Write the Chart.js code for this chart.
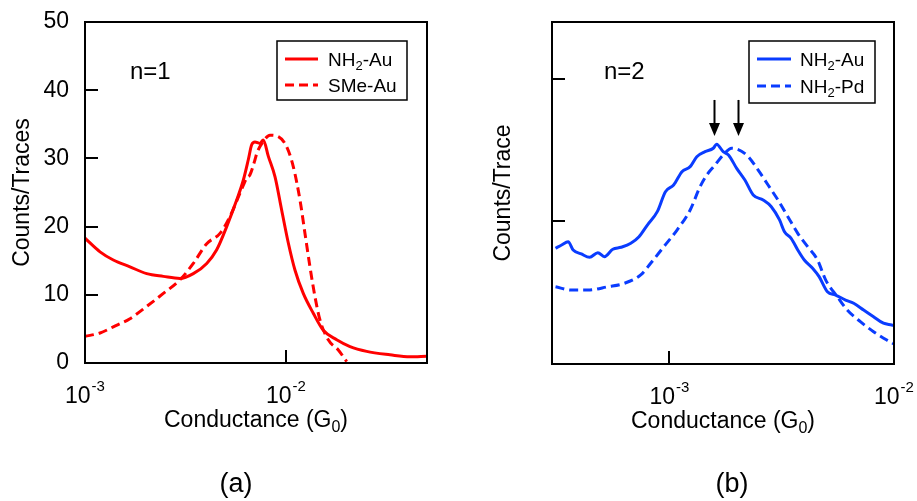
<!DOCTYPE html>
<html><head><meta charset="utf-8">
<script src="https://cdn.jsdelivr.net/npm/chart.js@4/dist/chart.umd.min.js"></script>
<style>
html,body{margin:0;padding:0;background:#fff;width:917px;height:501px;overflow:hidden}
#wa{position:absolute;left:0;top:0;width:460px;height:501px}
#wb{position:absolute;left:460px;top:0;width:457px;height:501px}
.cap{position:absolute;top:468px;line-height:30px;font-size:27px;font-family:"Liberation Sans",Arial,sans-serif;color:#000;transform:translateX(-50%)}
</style></head><body>
<div id="wa"><canvas id="ca"></canvas></div>
<div id="wb"><canvas id="cb"></canvas></div>
<div class="cap" style="left:236px">(a)</div>
<div class="cap" style="left:732px">(b)</div>
<script>
// ---------- data ----------
// Panel (a): n=1
const condA_NH2Au = [1.000e-3,1.188e-3,1.383e-3,1.674e-3,2.028e-3,2.453e-3,2.969e-3,3.458e-3,4.033e-3,4.521e-3,5.070e-3,5.684e-3,6.131e-3,6.492e-3,6.750e-3,7.010e-3,7.420e-3,7.710e-3,8.170e-3,8.820e-3,9.520e-3,1.027e-2,1.109e-2,1.219e-2,1.367e-2,1.533e-2,1.787e-2,2.082e-2,2.520e-2,3.290e-2,4.140e-2,5.000e-2];
const cntA_NH2Au  = [18.3,16.3,15.1,14.1,13.1,12.7,12.4,13.1,14.6,16.6,20.0,23.9,26.8,29.8,32.0,32.4,32.2,32.7,30.3,27.3,22.4,17.6,13.6,10.2,7.3,4.8,3.4,2.4,1.7,1.2,0.9,1.0];
const condA_SMeAu = [1.000e-3,1.188e-3,1.383e-3,1.674e-3,2.028e-3,2.453e-3,2.969e-3,3.458e-3,4.033e-3,4.695e-3,5.265e-3,5.904e-3,6.375e-3,6.620e-3,7.010e-3,7.150e-3,7.710e-3,8.320e-3,9.160e-3,1.008e-2,1.087e-2,1.174e-2,1.243e-2,1.316e-2,1.394e-2,1.476e-2,1.623e-2,1.821e-2,2.005e-2];
const cntA_SMeAu  = [3.9,4.4,5.3,6.5,8.3,10.2,12.2,14.6,17.5,19.0,21.5,24.9,27.1,27.6,29.8,30.7,32.5,33.4,33.2,31.7,28.8,23.9,19.0,14.1,9.7,6.3,3.4,1.9,0.2];
// Panel (b): n=2 (arbitrary units)
const condB_NH2Au = [3.110e-4,3.310e-4,3.540e-4,3.727e-4,4.055e-4,4.410e-4,4.800e-4,5.135e-4,5.595e-4,6.084e-4,6.730e-4,7.320e-4,7.975e-4,8.830e-4,9.600e-4,1.044e-3,1.137e-3,1.237e-3,1.324e-3,1.441e-3,1.568e-3,1.622e-3,1.735e-3,1.832e-3,1.993e-3,2.168e-3,2.361e-3,2.614e-3,2.842e-3,3.093e-3,3.253e-3,3.483e-3,3.728e-3,3.986e-3,4.340e-3,4.640e-3,5.053e-3,5.497e-3,6.083e-3,6.617e-3,7.325e-3,8.107e-3,8.973e-3,9.770e-3,1.000e-2];
const cntB_NH2Au  = [0.812,0.835,0.858,0.800,0.772,0.749,0.781,0.753,0.805,0.819,0.847,0.893,0.975,1.069,1.209,1.256,1.349,1.385,1.455,1.490,1.514,1.542,1.490,1.467,1.373,1.291,1.186,1.151,1.104,1.011,0.928,0.882,0.800,0.730,0.672,0.613,0.507,0.484,0.449,0.426,0.379,0.332,0.286,0.274,0.270];
const condB_NH2Pd = [3.110e-4,3.663e-4,4.338e-4,5.315e-4,6.290e-4,7.450e-4,8.250e-4,9.440e-4,1.081e-3,1.237e-3,1.369e-3,1.466e-3,1.594e-3,1.735e-3,1.894e-3,2.206e-3,2.485e-3,2.750e-3,3.043e-3,3.368e-3,3.728e-3,4.125e-3,4.566e-3,4.966e-3,5.593e-3,6.190e-3,7.085e-3,8.107e-3,9.287e-3,1.000e-2];
const cntB_NH2Pd  = [0.542,0.519,0.519,0.542,0.566,0.625,0.707,0.823,0.940,1.081,1.244,1.326,1.396,1.467,1.514,1.467,1.361,1.256,1.151,1.034,0.917,0.823,0.730,0.589,0.472,0.379,0.297,0.227,0.168,0.140];
const peakArrowsB = [1.574e-3, 2.028e-3];

// tick values and labels
const xTicksA = [1e-3, 1e-2];
const xTickExpA = ['-3', '-2'];
const yTicksA = [0, 10, 20, 30, 40, 50];
const xTicksB = [1e-3, 1e-2];
const xTickExpB = ['-3', '-2'];
const yTicksB = [0, 1, 2];

const xTitleParts = ['Conductance (G', '0', ')'];
const legendA = [['NH', '2', '-Au'], ['SMe-Au', '', '']];
const legendB = [['NH', '2', '-Au'], ['NH', '2', '-Pd']];

// ---------- rendering ----------
const FF = '"Liberation Sans", Arial, sans-serif';
const RED = '#ff0000', BLUE = '#0a3cff';

function pts(xs, ys) { return xs.map((x, i) => ({x: x, y: ys[i]})); }

function richWidth(ctx, parts, size) {
  ctx.font = size + 'px ' + FF;
  let w = ctx.measureText(parts[0]).width + (parts[2] ? ctx.measureText(parts[2]).width : 0);
  if (parts[1]) { ctx.font = Math.round(size * 0.68) + 'px ' + FF; w += ctx.measureText(parts[1]).width; }
  return w;
}
function drawRich(ctx, x, y, parts, size) {
  ctx.textAlign = 'left'; ctx.textBaseline = 'alphabetic';
  ctx.font = size + 'px ' + FF;
  ctx.fillText(parts[0], x, y); x += ctx.measureText(parts[0]).width;
  if (parts[1]) {
    ctx.font = Math.round(size * 0.68) + 'px ' + FF;
    ctx.fillText(parts[1], x, y + size * 0.22); x += ctx.measureText(parts[1]).width;
  }
  if (parts[2]) { ctx.font = size + 'px ' + FF; ctx.fillText(parts[2], x, y); }
}

const decor = {
  id: 'decor',
  afterDraw(chart, args, o) {
    const ctx = chart.ctx, a = chart.chartArea;
    const xs = chart.scales.x, ys = chart.scales.y;
    ctx.save();
    ctx.strokeStyle = '#000'; ctx.fillStyle = '#000'; ctx.lineWidth = 2;
    // inward tick marks
    ctx.beginPath();
    for (const t of ys.ticks) { const p = Math.round(ys.getPixelForValue(t.value)); ctx.moveTo(a.left, p); ctx.lineTo(a.left + 13, p); }
    for (const t of xs.ticks) { const p = Math.round(xs.getPixelForValue(t.value)); ctx.moveTo(p, a.bottom); ctx.lineTo(p, a.bottom - 13); }
    ctx.stroke();
    // frame
    ctx.strokeRect(a.left, a.top, a.right - a.left, a.bottom - a.top);
    // x tick labels 10^n
    xs.ticks.forEach((t, i) => {
      const px = xs.getPixelForValue(t.value);
      const exp = o.xExp[i];
      ctx.font = '23px ' + FF; const wb = ctx.measureText('10').width;
      ctx.font = '15px ' + FF; const we = ctx.measureText(exp).width;
      const x0 = px - (wb + we + 1) / 2;
      ctx.textAlign = 'left'; ctx.textBaseline = 'alphabetic';
      ctx.font = '23px ' + FF; ctx.fillText('10', x0, a.bottom + 40);
      ctx.font = '15px ' + FF; ctx.fillText(exp, x0 + wb + 1, a.bottom + 28);
    });
    // x axis title with subscript
    const tw = richWidth(ctx, xTitleParts, 23);
    drawRich(ctx, (a.left + a.right) / 2 - tw / 2, a.bottom + 64, xTitleParts, 23);
    // panel annotation
    ctx.font = '24px ' + FF; ctx.textAlign = 'left'; ctx.textBaseline = 'alphabetic';
    ctx.fillText(o.note, o.noteX, o.noteY);
    // legend
    const L = o.legend;
    ctx.lineWidth = 1.5; ctx.strokeStyle = '#000';
    ctx.strokeRect(L.box[0], L.box[1], L.box[2], L.box[3]);
    L.items.forEach((it, i) => {
      const yy = L.rows[i];
      ctx.strokeStyle = o.color; ctx.lineWidth = 3;
      ctx.setLineDash(i === 1 ? [9, 5] : []);
      ctx.beginPath(); ctx.moveTo(L.lineX[0], yy); ctx.lineTo(L.lineX[1], yy); ctx.stroke();
      ctx.setLineDash([]);
      ctx.fillStyle = '#000';
      drawRich(ctx, L.textX, yy + 6.5, it, 19);
    });
    // arrows
    if (o.arrows) {
      ctx.fillStyle = '#000'; ctx.strokeStyle = '#000'; ctx.lineWidth = 2;
      o.arrows.forEach(v => {
        const px = Math.round(xs.getPixelForValue(v)) + 0.5;
        const yTop = ys.getPixelForValue(o.arrowTop), yTip = ys.getPixelForValue(o.arrowTip);
        ctx.beginPath(); ctx.moveTo(px, yTop); ctx.lineTo(px, yTip - 10); ctx.stroke();
        ctx.beginPath(); ctx.moveTo(px - 5.5, yTip - 13); ctx.lineTo(px + 5.5, yTip - 13); ctx.lineTo(px, yTip); ctx.closePath(); ctx.fill();
      });
    }
    ctx.restore();
  }
};

function makeChart(id, cfg) {
  return new Chart(document.getElementById(id), {
    type: 'line',
    data: {datasets: cfg.datasets},
    options: {
      responsive: true, maintainAspectRatio: false, animation: false, events: [],
      layout: {autoPadding: false, padding: cfg.pad},
      elements: {point: {radius: 0}, line: {borderWidth: 3, cubicInterpolationMode: 'monotone'}},
      plugins: {legend: {display: false}, tooltip: {enabled: false}, decor: cfg.decor},
      scales: {
        x: {
          type: 'logarithmic', min: cfg.xMin, max: cfg.xMax,
          afterBuildTicks: s => { s.ticks = cfg.xTicks.map(v => ({value: v})); },
          afterFit: s => { s.height = 72; s.paddingLeft = 0; s.paddingRight = 0; },
          grid: {display: false}, border: {display: false},
          ticks: {display: false},
          title: {display: false}
        },
        y: {
          type: 'linear', min: cfg.yMin, max: cfg.yMax,
          afterBuildTicks: s => { s.ticks = cfg.yTicks.map(v => ({value: v})); },
          afterFit: s => { s.width = cfg.yWidth; s.paddingTop = 0; s.paddingBottom = 0; },
          grid: {display: false}, border: {display: false},
          ticks: {display: cfg.yLabels, color: '#000', padding: 8, font: {family: FF, size: 23}},
          title: {display: true, text: cfg.yTitle, color: '#000', font: {family: FF, size: 23}, padding: {top: cfg.yTitlePad, bottom: 0}}
        }
      }
    },
    plugins: [decor]
  });
}

makeChart('ca', {
  datasets: [
    {label: 'NH2-Au', data: pts(condA_NH2Au, cntA_NH2Au), borderColor: RED, fill: false},
    {label: 'SMe-Au', data: pts(condA_SMeAu, cntA_SMeAu), borderColor: RED, borderDash: [9, 5], fill: false}
  ],
  pad: {left: 0, right: 33, top: 22, bottom: 66},
  xMin: 1e-3, xMax: 5.03e-2, xTicks: xTicksA,
  yMin: 0, yMax: 50, yTicks: yTicksA, yLabels: true, yWidth: 85,
  yTitle: 'Counts/Traces', yTitlePad: 9,
  decor: {
    xExp: xTickExpA, color: RED, note: 'n=1', noteX: 130, noteY: 79,
    legend: {box: [277, 41, 130, 59], rows: [59, 85], lineX: [285, 318], textX: 328, items: legendA}
  }
});

makeChart('cb', {
  datasets: [
    {label: 'NH2-Au', data: pts(condB_NH2Au, cntB_NH2Au), borderColor: BLUE, fill: false},
    {label: 'NH2-Pd', data: pts(condB_NH2Pd, cntB_NH2Pd), borderColor: BLUE, borderDash: [9, 5], fill: false}
  ],
  pad: {left: 0, right: 23, top: 22, bottom: 65},
  xMin: 3.11e-4, xMax: 1e-2, xTicks: xTicksB,
  yMin: 0, yMax: 2.4, yTicks: yTicksB, yLabels: false, yWidth: 92,
  yTitle: 'Counts/Trace', yTitlePad: 30,
  decor: {
    xExp: xTickExpB, color: BLUE, note: 'n=2', noteX: 144, noteY: 79,
    legend: {box: [289, 41, 126, 62], rows: [59, 86], lineX: [297, 331], textX: 340, items: legendB},
    arrows: peakArrowsB, arrowTop: 1.853, arrowTip: 1.60
  }
});
</script>
</body></html>
